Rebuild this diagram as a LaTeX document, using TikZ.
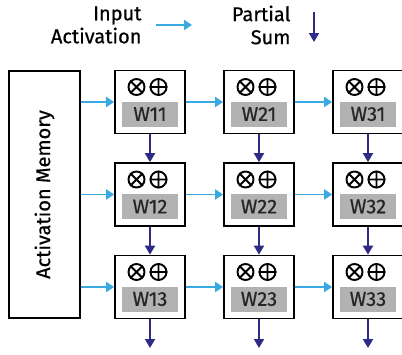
\documentclass[tikz,border=0pt]{standalone}
\usepackage{fontspec}
\setmainfont{Fira Sans}[FakeBold=0.6]
\usetikzlibrary{arrows.meta}
\definecolor{actblue}{HTML}{3BA9E1}
\definecolor{psumblue}{HTML}{2E2A88}
\definecolor{wgray}{HTML}{B2B2B2}
\tikzset{
  pe/.style={draw, line width=1.7pt, minimum width=70pt, minimum height=63pt, inner sep=0pt},
  wbox/.style={fill=wgray, minimum width=56pt, minimum height=25pt, inner sep=0pt, text=black!85},
  op/.style={circle, draw, line width=1.9pt, minimum size=16pt, inner sep=0pt},
  act/.style={actblue, line width=1.8pt, -{Triangle[length=8pt,width=10pt]}},
  psum/.style={psumblue, line width=1.8pt, -{Triangle[length=9pt,width=10pt]}},
}
\begin{document}
\begin{tikzpicture}[x=1pt, y=1pt, node distance=109pt, font=\fontsize{20}{23}\selectfont]
  \useasboundingbox (0,0) rectangle (402,-354);
  % legend
  \node[anchor=east, align=right] (iatext) at (145,-25) {Input\\Activation};
  \coordinate (ia0) at (156,-25);
  \coordinate[right of=ia0, node distance=36pt] (ia1);
  \node[anchor=east, align=right] (pstext) at (294,-25) {Partial\\Sum};
  \coordinate (ps0) at (314,-12);
  \coordinate[below of=ps0, node distance=30pt] (ps1);
  \draw[act] (ia0) -- (ia1);
  \draw[psum] (ps0) -- (ps1);
  % memory and PE array
  \node[draw, line width=1.7pt, minimum width=71pt, minimum height=247.5pt] (mem) at (44.5,-194.5) {};
  \node[rotate=90] (memtext) at (mem) {Activation Memory};
  \node[pe] (pe11) at (150,-102) {};
  \node[pe, right of=pe11] (pe21) {};
  \node[pe, right of=pe21] (pe31) {};
  \node[pe, below of=pe11, node distance=92.5pt] (pe12) {};
  \node[pe, right of=pe12] (pe22) {};
  \node[pe, right of=pe22] (pe32) {};
  \node[pe, below of=pe12, node distance=92.5pt] (pe13) {};
  \node[pe, right of=pe13] (pe23) {};
  \node[pe, right of=pe23] (pe33) {};
  \foreach \c in {1,2,3} {
    \foreach \r in {1,2,3} {
      \node[wbox, below of=pe\c\r, node distance=12pt] (w\c\r) {W\c\r};
      \node[op] (mul\c\r) at ([shift={(-13.5,15)}]pe\c\r.center) {};
      \node[op] (add\c\r) at ([shift={(8.5,15)}]pe\c\r.center) {};
      \draw[line width=1.9pt] (mul\c\r.north west) -- (mul\c\r.south east)
        (mul\c\r.north east) -- (mul\c\r.south west)
        (add\c\r.north) -- (add\c\r.south) (add\c\r.west) -- (add\c\r.east);
    }
    \coordinate[below of=pe\c3, node distance=61pt] (out\c);
  }
  % activations flow right
  \foreach \r in {1,2,3} {
    \draw[act] (mem.east |- pe1\r) -- (pe1\r);
    \draw[act] (pe1\r) -- (pe2\r);
    \draw[act] (pe2\r) -- (pe3\r);
  }
  % partial sums flow down
  \foreach \c in {1,2,3} {
    \draw[psum] (pe\c1) -- (pe\c2);
    \draw[psum] (pe\c2) -- (pe\c3);
    \draw[psum] (pe\c3) -- (out\c);
  }
\end{tikzpicture}
\end{document}
